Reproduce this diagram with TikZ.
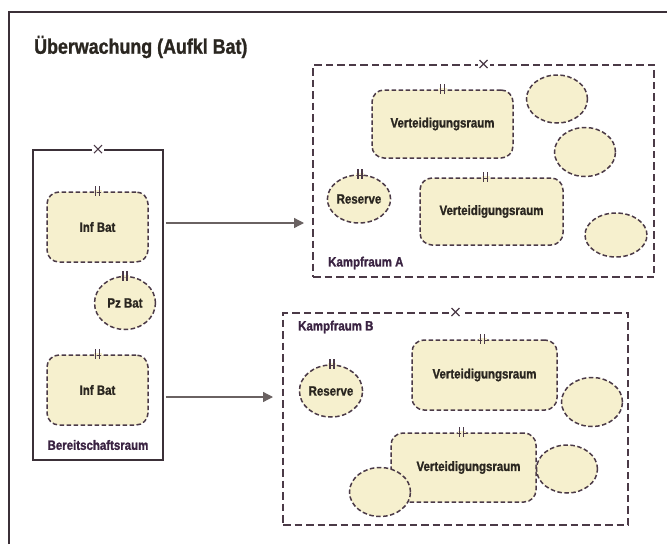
\documentclass[tikz,border=0pt]{standalone}
\usepackage{fontspec}
\setmainfont{Liberation Sans}
\newfontfamily\cf[FakeStretch=0.85,BoldFont={Liberation Sans Bold},BoldFeatures={FakeStretch=0.85,FakeBold=1.2}]{Liberation Sans}
\usetikzlibrary{shapes.geometric,arrows.meta}
\definecolor{fillc}{HTML}{F6F0CE}
\definecolor{linec}{HTML}{4B3A47}
\definecolor{framec}{HTML}{3B3038}
\definecolor{arrc}{HTML}{6A6262}
\definecolor{labc}{HTML}{3A2342}
\definecolor{txtc}{HTML}{2A2620}
\tikzset{
  dsh/.style={draw=linec, line width=1.5pt, dash pattern=on 4.5pt off 2.5pt},
  areabox/.style={dsh, fill=fillc, rounded corners=12pt, inner sep=0pt, font=\cf\bfseries\fontsize{13.5}{15}\selectfont, text=txtc},
  areaell/.style={dsh, fill=fillc, ellipse, inner sep=0pt, font=\cf\bfseries\fontsize{13.5}{15}\selectfont, text=txtc},
  kampf/.style={draw=linec, line width=2pt, dash pattern=on 7.5pt off 4pt, inner sep=0pt},
  bereitbox/.style={draw=framec, line width=1.8pt, fill=white, inner sep=0pt},
  lab/.style={font=\cf\bfseries\fontsize{13.5}{15}\selectfont, text=labc, inner sep=0pt},
  brk/.style={draw=linec, line width=1.4pt},
  xmk/.style={draw=linec, line width=1.2pt},
  arr/.style={draw=arrc, line width=1.3pt, -{Triangle[length=10pt,width=10pt]}},
}
\newcommand\brkmark[2]{\fill[fillc] (#1) ++(#2,0) ++(-4,-1) rectangle ++(8,2);
  \draw[brk] (#1) ++(#2,0) ++(-2,-5) -- ++(0,10) (#1) ++(#2,0) ++(2,-5) -- ++(0,10);}
\newcommand\xmark[1]{\fill[white] (#1) ++(-6,-3) rectangle ++(12,6);
  \draw[xmk] (#1) ++(-4,-4) -- ++(8,8) (#1) ++(-4,4) -- ++(8,-8);}
\begin{document}
\begin{tikzpicture}[x=1pt,y=-1pt]
\useasboundingbox (0,0) rectangle (667,544);
\fill[white] (0,0) rectangle (667,544);
% outer frame
\draw[framec, line width=1.5pt] (9,544) -- (9,12) -- (667,12);
\node[anchor=west, font=\cf\bfseries\fontsize{21}{24}\selectfont, text=txtc, inner sep=0pt] (title) at (34,47) {Überwachung (Aufkl Bat)};

% Bereitschaftsraum
\node[bereitbox, minimum width=130pt, minimum height=310pt] (bereit) at (98,305) {};
\xmark{bereit.north}
\node[areabox, minimum width=101pt, minimum height=70pt] (inf1) at (97.5,227) {Inf Bat};
\brkmark{inf1.north}{0}
\node[areaell, minimum width=61pt, minimum height=53pt] (pz) at (125,303) {Pz Bat};
\brkmark{pz.north}{0}
\node[areabox, minimum width=101pt, minimum height=70pt] (inf2) at (97.5,390) {Inf Bat};
\brkmark{inf2.north}{0}
\node[lab] (bereitlab) at (98,445) {Bereitschaftsraum};

% Kampfraum A
\node[kampf, minimum width=341pt, minimum height=212pt] (kampfA) at (483.5,171) {};
\xmark{kampfA.north}
\node[areabox, minimum width=141pt, minimum height=68pt] (vA1) at (442.5,124) {Verteidigungsraum};
\brkmark{vA1.north}{0}
\node[areaell, minimum width=61pt, minimum height=48pt] (eA1) at (557,99) {};
\node[areaell, minimum width=61pt, minimum height=49pt] (eA2) at (585,152) {};
\node[areaell, minimum width=62pt, minimum height=48pt] (resA) at (359,199) {Reserve};
\brkmark{resA.north}{1}
\node[areabox, minimum width=143pt, minimum height=67pt] (vA2) at (491.5,211.5) {Verteidigungsraum};
\brkmark{vA2.north}{-6}
\node[areaell, minimum width=62pt, minimum height=44pt] (eA3) at (616,235) {};
\node[lab, anchor=west] (labA) at (328,263) {Kampfraum A};

% Kampfraum B
\node[kampf, minimum width=345pt, minimum height=212pt] (kampfB) at (455.5,419) {};
\xmark{kampfB.north}
\node[lab, anchor=west] (labB) at (298,327) {Kampfraum B};
\node[areaell, minimum width=62pt, minimum height=52pt] (resB) at (331,391) {Reserve};
\brkmark{resB.north}{1}
\node[areabox, minimum width=145pt, minimum height=70pt] (vB1) at (484.5,375) {Verteidigungsraum};
\brkmark{vB1.north}{-2}
\node[areaell, minimum width=61pt, minimum height=49pt] (eB1) at (592,402) {};
\node[areabox, minimum width=145pt, minimum height=69pt] (vB2) at (463.5,467.5) {\hspace*{10pt}Verteidigungsraum};
\brkmark{vB2.north}{-2}
\node[areaell, minimum width=61pt, minimum height=48pt] (eB2) at (567,469) {};
\node[areaell, minimum width=61pt, minimum height=49pt] (eB3) at (380,492) {};

% arrows
\draw[arr, shorten <=2pt, shorten >=8pt] (bereit.east |- 0,223) -- (kampfA.west |- 0,223);
\draw[arr, shorten <=2pt, shorten >=9pt] (bereit.east |- 0,397) -- (kampfB.west |- 0,397);
\end{tikzpicture}
\end{document}
